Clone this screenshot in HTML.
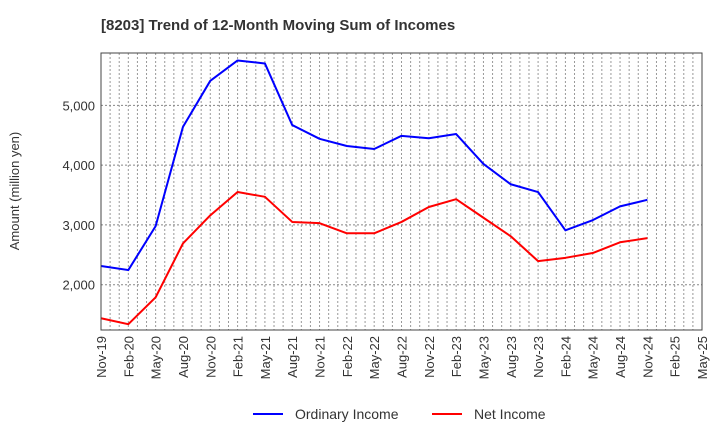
<!DOCTYPE html>
<html><head><meta charset="utf-8"><style>
body{margin:0;background:#fff;font-family:"Liberation Sans",sans-serif;}
svg text{font-family:"Liberation Sans",sans-serif;}
</style></head><body>
<svg id="chart" width="720" height="440">
<text x="101" y="30" font-size="15" font-weight="bold" fill="#333">[8203]  Trend of 12-Month Moving Sum of Incomes</text>
<text transform="translate(19,191) rotate(-90)" text-anchor="middle" font-size="13" fill="#333">Amount (million yen)</text>
<g id="grid"></g><g id="lines"></g><g id="axes"></g>
<g>
<line x1="253" y1="414" x2="283" y2="414" stroke="#0000ff" stroke-width="2"/>
<text x="295" y="419" font-size="14" fill="#333">Ordinary Income</text>
<line x1="432" y1="414" x2="462" y2="414" stroke="#ff0000" stroke-width="2"/>
<text x="474" y="419" font-size="14" fill="#333">Net Income</text>
</g>
</svg>
<script>
const categories=["Nov-19","Feb-20","May-20","Aug-20","Nov-20","Feb-21","May-21","Aug-21","Nov-21","Feb-22","May-22","Aug-22","Nov-22","Feb-23","May-23","Aug-23","Nov-23","Feb-24","May-24","Aug-24","Nov-24","Feb-25","May-25"];
const ordinaryIncome=[2313,2245,2980,4640,5410,5750,5700,4670,4440,4320,4270,4490,4450,4520,4020,3680,3550,2910,3080,3310,3420];
const netIncome=[1440,1340,1790,2690,3160,3550,3470,3050,3030,2860,2860,3050,3300,3430,3120,2810,2395,2450,2530,2710,2780];
const yTicks=[2000,3000,4000,5000];
const yTickLabels=["2,000","3,000","4,000","5,000"];
const L=101,R=702,T=53,B=330,YMIN=1243,YMAX=5875;
const NS="http://www.w3.org/2000/svg";
function x(i){return L+(R-L)*i/(categories.length-1);}
function y(v){return B-(v-YMIN)/(YMAX-YMIN)*(B-T);}
function mk(tag,attrs,parent){const e=document.createElementNS(NS,tag);for(const k in attrs)e.setAttribute(k,attrs[k]);parent.appendChild(e);return e;}
const grid=document.getElementById('grid'),lines=document.getElementById('lines'),axes=document.getElementById('axes');
const nMonths=(categories.length-1)*3;
for(let m=1;m<nMonths;m++){const xx=L+(R-L)*m/nMonths;
const g=mk('line',{x1:xx,x2:xx,y1:T,y2:B,stroke:'#999','stroke-width':1,'stroke-dasharray':'2,2'},grid);

}
yTicks.forEach((v,i)=>{const yy=y(v);
const g=mk('line',{x1:L,x2:R,y1:yy,y2:yy,stroke:'#888','stroke-width':1,'stroke-dasharray':'2,2'},grid);


const t=mk('text',{x:L-6,y:yy+5,'text-anchor':'end','font-size':13,fill:'#333'},axes);t.textContent=yTickLabels[i];

});
categories.forEach((c,i)=>{const t=mk('text',{transform:`translate(${x(i)+5},${B+6}) rotate(-90)`,'text-anchor':'end','font-size':13,fill:'#333'},axes);t.textContent=c;

});
const fr=mk('rect',{x:L,y:T,width:R-L,height:B-T,fill:'none',stroke:'#444','stroke-width':1},axes);


function series(data,color,name){const p=mk('polyline',{points:data.map((v,i)=>x(i)+','+y(v)).join(' '),fill:'none',stroke:color,'stroke-width':2,'stroke-linejoin':'round'},lines);

}
series(ordinaryIncome,'#0000ff','ordinary-income-line');
series(netIncome,'#ff0000','net-income-line');
</script>
</body></html>
